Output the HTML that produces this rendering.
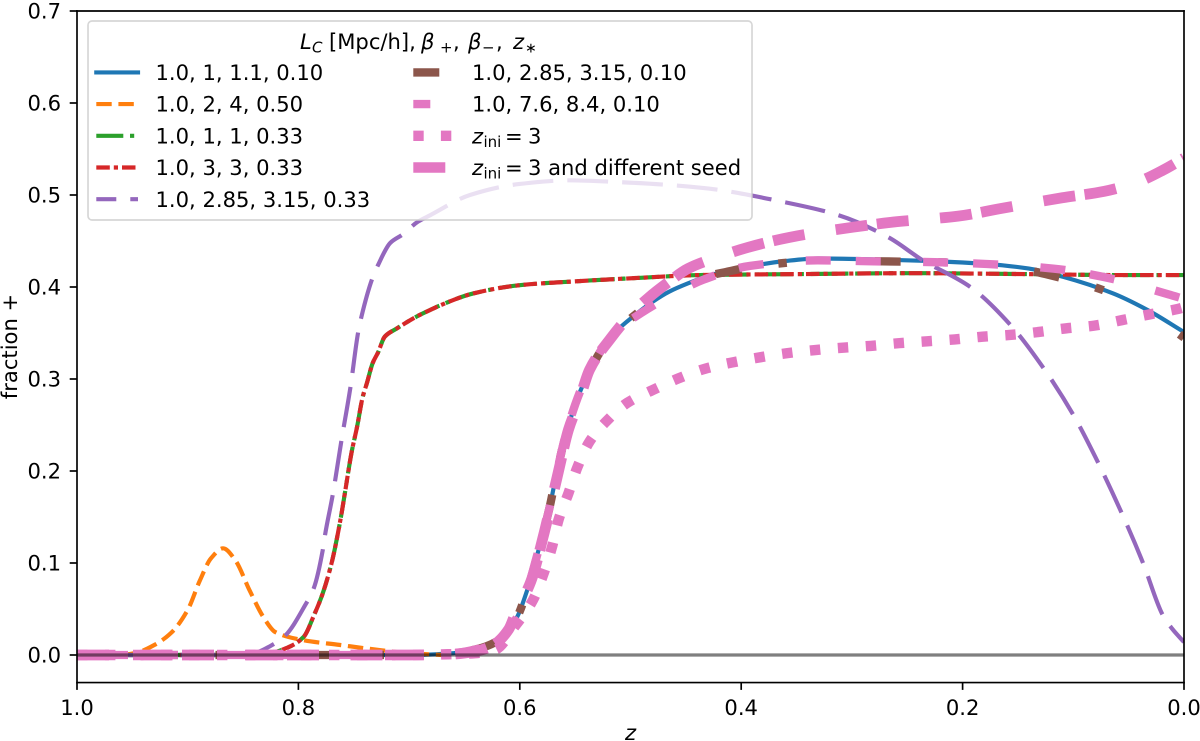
<!DOCTYPE html>
<html lang="en">
<head>
<meta charset="utf-8">
<title>Fraction + versus z</title>
<style>
html,body{margin:0;padding:0;background:#fff;}
svg{display:block;font-family:"DejaVu Sans","Liberation Sans",sans-serif;fill:#000;}
text{font-size:21.1px;}
</style>
</head>
<body>
<svg id="chart" xmlns="http://www.w3.org/2000/svg" width="1200" height="741" viewBox="0 0 1200 741">
<defs><clipPath id="plot-clip"><rect x="77" y="11" width="1107" height="671.6"></rect></clipPath></defs>
<rect x="0" y="0" width="1200" height="741" fill="#fff"></rect>
<g id="series-layer" clip-path="url(#plot-clip)"></g>
<g id="axes-layer"></g>
<g>
  <rect x="88" y="21" width="664" height="199" rx="4" ry="4" fill="#fff" fill-opacity="0.8" stroke="#ccc" stroke-opacity="0.8" stroke-width="1.67"></rect>
  <text y="49"><tspan x="300" font-style="italic">L</tspan><tspan x="312" font-style="italic" font-size="15" dy="3.5">C</tspan><tspan x="329" dy="-3.5">[Mpc/h],</tspan><tspan x="421" font-style="italic">β</tspan><tspan x="440" font-size="15" dy="3.5">+</tspan><tspan x="453" dy="-3.5">,</tspan><tspan x="468" font-style="italic">β</tspan><tspan x="482" font-size="15" dy="3.5">−</tspan><tspan x="496" dy="-3.5">,</tspan><tspan x="513" font-style="italic">z</tspan><tspan x="525" font-size="14" dy="3.5">∗</tspan></text>

  <g>
    <line x1="96.3" x2="138" y1="72.4" y2="72.4" stroke="#1f77b4" stroke-width="4.17" stroke-linecap="square"></line>
    <text x="155.5" y="80">1.0, 1, 1.1, 0.10</text>
  </g>
  <g>
    <line x1="96.3" x2="138" y1="104.1" y2="104.1" stroke="#ff7f0e" stroke-width="4.17" stroke-dasharray="15.4 6.7"></line>
    <text x="155.5" y="111.7">1.0, 2, 4, 0.50</text>
  </g>
  <g>
    <line x1="96.3" x2="138" y1="135.8" y2="135.8" stroke="#2ca02c" stroke-width="4.17" stroke-dasharray="27 6.7 4.2 6.7"></line>
    <text x="155.5" y="143.4">1.0, 1, 1, 0.33</text>
  </g>
  <g>
    <line x1="96.3" x2="138" y1="167.5" y2="167.5" stroke="#d62728" stroke-width="4.17" stroke-dasharray="13.5 4 4.2 4"></line>
    <text x="155.5" y="175.1">1.0, 3, 3, 0.33</text>
  </g>
  <g>
    <line x1="96.3" x2="138" y1="199.2" y2="199.2" stroke="#9467bd" stroke-width="4.17" stroke-dasharray="20 14 8 100"></line>
    <text x="155.5" y="206.8">1.0, 2.85, 3.15, 0.33</text>
  </g>
  <g>
    <line x1="413.3" x2="455" y1="72.4" y2="72.4" stroke="#8c564b" stroke-width="8.33" stroke-dasharray="26 100"></line>
    <text x="472" y="80">1.0, 2.85, 3.15, 0.10</text>
  </g>
  <g>
    <line x1="413.3" x2="455" y1="104.1" y2="104.1" stroke="#e377c2" stroke-width="8.33" stroke-dasharray="17 100"></line>
    <text x="472" y="111.7">1.0, 7.6, 8.4, 0.10</text>
  </g>
  <g>
    <line x1="413.3" x2="455" y1="135.8" y2="135.8" stroke="#e377c2" stroke-width="10.4" stroke-dasharray="10.4 17.2"></line>
    <text y="143.4"><tspan x="472" font-style="italic">z</tspan><tspan x="483.5" font-size="15" dy="3.5">ini</tspan><tspan x="505" dy="-3.5">=</tspan><tspan x="528">3</tspan></text>
  </g>
  <g>
    <line x1="413.3" x2="455" y1="167.5" y2="167.5" stroke="#e377c2" stroke-width="10.4" stroke-dasharray="32 100"></line>
    <text y="175.1"><tspan x="472" font-style="italic">z</tspan><tspan x="483.5" font-size="15" dy="3.5">ini</tspan><tspan x="505" dy="-3.5">=</tspan><tspan x="528">3 and different seed</tspan></text>
  </g>
</g>
</svg>
<script>
var xTicks = [1.0, 0.8, 0.6, 0.4, 0.2, 0.0];
var xTickLabels = ["1.0", "0.8", "0.6", "0.4", "0.2", "0.0"];
var yTicks = [0.0, 0.1, 0.2, 0.3, 0.4, 0.5, 0.6, 0.7];
var yTickLabels = ["0.0", "0.1", "0.2", "0.3", "0.4", "0.5", "0.6", "0.7"];

var zBlue = [1.0,.70,.66,.64,.622,.603,.594,.584,.573,.568,.559,.546,.538,.525,.512,.4986,.48,.465,.448,.43,.415,.39,.362,.33,.28,.225,.178,.14,.109,.064,.033,0];
var fBlue = [0,0,.002,.006,.014,.04,.068,.11,.161,.19,.237,.285,.306,.334,.353,.367,.384,.395,.404,.412,.417,.423,.428,.431,.43,.428,.425,.42,.411,.393,.375,.351];

var zOrange = [1.0,.96,.945,.93,.915,.90,.889,.879,.868,.857,.844,.831,.821,.795,.763,.731,.70,.67];
var fOrange = [0,0,.003,.011,.024,.049,.081,.105,.116,.103,.07,.04,.025,.016,.011,.006,.002,0];

var zGreen = [1.0,.86,.83,.81,.795,.786,.778,.77,.767,.761,.758,.752,.747,.742,.738,.733,.728,.722,.711,.693,.681,.672,.642,.6,.552,.491,.437,.35,.245,.139,.06,0];
var fGreen = [0,0,.001,.008,.02,.043,.067,.1,.116,.154,.176,.22,.248,.28,.296,.317,.329,.346,.355,.368,.375,.38,.393,.402,.406,.41,.413,.414,.415,.414,.413,.413];

var zRed = [1.0,.86,.83,.81,.795,.786,.778,.77,.767,.761,.758,.752,.747,.742,.738,.733,.728,.722,.711,.693,.681,.672,.642,.6,.552,.491,.437,.35,.245,.139,.06,0];
var fRed = [0,0,.001,.008,.02,.043,.067,.1,.116,.154,.176,.22,.248,.28,.296,.317,.329,.346,.355,.368,.375,.38,.393,.402,.406,.41,.413,.414,.415,.414,.413,.413];

var zPurple = [1.0,.86,.84,.825,.812,.794,.786,.778,.776,.769,.761,.753,.746,.743,.733,.728,.717,.706,.692,.681,.645,.6,.555,.51,.437,.36,.312,.267,.236,.193,.157,.127,.1,.08,.051,.037,.019,.011,0];
var fPurple = [0,0,.002,.01,.021,.054,.073,.114,.13,.174,.234,.291,.351,.368,.41,.424,.448,.457,.471,.478,.5,.512,.516,.514,.508,.492,.478,.454,.429,.40,.359,.312,.261,.215,.14,.10,.043,.029,.014];

var zBrown = [1.0,.70,.66,.64,.622,.603,.594,.584,.573,.568,.559,.546,.538,.525,.512,.4986,.48,.465,.448,.43,.415,.39,.362,.33,.28,.225,.178,.14,.125,.074,.033,0];
var fBrown = [0,0,.002,.006,.014,.04,.068,.11,.161,.19,.237,.285,.306,.334,.353,.367,.384,.395,.404,.412,.416,.422,.426,.429,.428,.427,.425,.418,.414,.397,.373,.345];

var zPink = [1.0,.70,.66,.64,.622,.603,.594,.584,.573,.568,.559,.546,.538,.525,.512,.49,.46,.434,.392,.331,.286,.225,.178,.118,.073,.014,0];
var fPink = [0,0,.002,.006,.014,.04,.068,.11,.161,.19,.237,.285,.306,.334,.353,.372,.393,.408,.423,.429,.428,.427,.425,.42,.411,.392,.387];

var zDotted = [1.0,.70,.66,.64,.622,.604,.588,.579,.571,.565,.556,.548,.537,.521,.503,.48,.456,.433,.408,.359,.333,.308,.283,.257,.232,.207,.182,.156,.132,.107,.081,.056,.032,.006,0];
var fDotted = [0,0,.001,.002,.006,.032,.06,.087,.117,.147,.176,.204,.232,.255,.274,.288,.301,.311,.318,.328,.3315,.334,.336,.339,.341,.343,.346,.348,.351,.355,.358,.364,.37,.376,.378];

var zSeed = [1.0,.70,.66,.64,.625,.61,.604,.59,.579,.565,.556,.547,.537,.518,.50,.484,.466,.448,.42,.394,.356,.299,.259,.204,.167,.11,.072,.04,.019,0];
var fSeed = [0,0,.001,.004,.01,.028,.045,.08,.128,.2,.245,.274,.31,.344,.37,.388,.405,.42,.433,.443,.454,.465,.471,.477,.485,.497,.504,.515,.527,.54];

var SVG_NS = "http://www.w3.org/2000/svg";

function xScale(z) { return 1184 - z * 1107; }
function yScale(f) { return 655 - f * 920; }

function monotonePath(zs, fs) {
  var px = zs.map(xScale);
  var py = fs.map(yScale);
  var n = px.length;
  var d = [];
  var i;
  for (i = 0; i < n - 1; i++) {
    d.push((py[i + 1] - py[i]) / (px[i + 1] - px[i]));
  }
  var m = [d[0]];
  for (i = 1; i < n - 1; i++) {
    if (d[i - 1] * d[i] <= 0) {
      m.push(0);
    } else {
      var h0 = px[i] - px[i - 1];
      var h1 = px[i + 1] - px[i];
      var w1 = 2 * h1 + h0;
      var w2 = h1 + 2 * h0;
      m.push((w1 + w2) / (w1 / d[i - 1] + w2 / d[i]));
    }
  }
  m.push(d[n - 2]);
  var out = "M" + px[0].toFixed(2) + "," + py[0].toFixed(2);
  for (i = 0; i < n - 1; i++) {
    var h = (px[i + 1] - px[i]) / 3;
    out += "C" + (px[i] + h).toFixed(2) + "," + (py[i] + m[i] * h).toFixed(2) + " " +
      (px[i + 1] - h).toFixed(2) + "," + (py[i + 1] - m[i + 1] * h).toFixed(2) + " " +
      px[i + 1].toFixed(2) + "," + py[i + 1].toFixed(2);
  }
  return out;
}

var seriesLayer = document.getElementById("series-layer");
var axesLayer = document.getElementById("axes-layer");

function drawSeries(name, zs, fs, color, width, dash, offset) {
  var el = document.createElementNS(SVG_NS, "path");
  
  
  el.setAttribute("d", monotonePath(zs, fs));
  el.setAttribute("fill", "none");
  el.setAttribute("stroke", color);
  el.setAttribute("stroke-width", width);
  if (dash) {
    el.setAttribute("stroke-dasharray", dash);
    el.setAttribute("stroke-dashoffset", offset);
  }
  seriesLayer.appendChild(el);
}

drawSeries("series-blue", zBlue, fBlue, "#1f77b4", 4.17, "", 0);
drawSeries("series-orange", zOrange, fOrange, "#ff7f0e", 4.17, "15.4 6.7", 0);
drawSeries("series-green", zGreen, fGreen, "#2ca02c", 4.17, "27 6.7 4.2 6.7", 0);
drawSeries("series-red", zRed, fRed, "#d62728", 4.17, "13.5 4 4.2 4", 0);
drawSeries("series-purple", zPurple, fPurple, "#9467bd", 4.17, "40.8 14.05", 6.1);
drawSeries("series-brown", zBrown, fBrown, "#8c564b", 8.33, "26 37.5 8.5 88", -75);
drawSeries("series-pink", zPink, fPink, "#e377c2", 8.33, "25 25 25 42.4", -26);
drawSeries("series-zini", zDotted, fDotted, "#e377c2", 10.4, "10.4 17.6", 0);
drawSeries("series-zini-seed", zSeed, fSeed, "#e377c2", 10.8, "32 31.5 32 9.5", 0);

var zeroLine = document.createElementNS(SVG_NS, "line");


zeroLine.setAttribute("x1", xScale(1));
zeroLine.setAttribute("x2", xScale(0));
zeroLine.setAttribute("y1", yScale(0));
zeroLine.setAttribute("y2", yScale(0));
zeroLine.setAttribute("stroke", "#000");
zeroLine.setAttribute("stroke-opacity", "0.5");
zeroLine.setAttribute("stroke-width", "3.13");
seriesLayer.appendChild(zeroLine);

var spineSpecs = [
  ["spine-left", 77, 11, 77, 682.6],
  ["spine-right", 1184, 11, 1184, 682.6],
  ["spine-top", 77, 11, 1184, 11],
  ["spine-bottom", 77, 682.6, 1184, 682.6]
];
spineSpecs.forEach(function (s) {
  var el = document.createElementNS(SVG_NS, "line");
  
  
  el.setAttribute("x1", s[1]);
  el.setAttribute("y1", s[2]);
  el.setAttribute("x2", s[3]);
  el.setAttribute("y2", s[4]);
  el.setAttribute("stroke", "#000");
  el.setAttribute("stroke-width", "1.67");
  el.setAttribute("stroke-linecap", "square");
  axesLayer.appendChild(el);
});

xTicks.forEach(function (v, i) {
  var t = document.createElementNS(SVG_NS, "line");
  
  
  t.setAttribute("x1", xScale(v));
  t.setAttribute("x2", xScale(v));
  t.setAttribute("y1", 682.6);
  t.setAttribute("y2", 689.9);
  t.setAttribute("stroke", "#000");
  t.setAttribute("stroke-width", "1.67");
  axesLayer.appendChild(t);
  var l = document.createElementNS(SVG_NS, "text");
  
  
  l.setAttribute("x", xScale(v));
  l.setAttribute("y", 715);
  l.setAttribute("text-anchor", "middle");
  l.textContent = xTickLabels[i];
  axesLayer.appendChild(l);
});

yTicks.forEach(function (v, i) {
  var t = document.createElementNS(SVG_NS, "line");
  
  
  t.setAttribute("x1", 77);
  t.setAttribute("x2", 69.7);
  t.setAttribute("y1", yScale(v));
  t.setAttribute("y2", yScale(v));
  t.setAttribute("stroke", "#000");
  t.setAttribute("stroke-width", "1.67");
  axesLayer.appendChild(t);
  var l = document.createElementNS(SVG_NS, "text");
  
  
  l.setAttribute("x", 61);
  l.setAttribute("y", yScale(v) + 7.6);
  l.setAttribute("text-anchor", "end");
  l.textContent = yTickLabels[i];
  axesLayer.appendChild(l);
});

var xTitle = document.createElementNS(SVG_NS, "text");


xTitle.setAttribute("x", 630.5);
xTitle.setAttribute("y", 740);
xTitle.setAttribute("text-anchor", "middle");
xTitle.setAttribute("font-style", "italic");
xTitle.textContent = "z";
axesLayer.appendChild(xTitle);

var yTitle = document.createElementNS(SVG_NS, "text");


yTitle.setAttribute("transform", "translate(17,346.5) rotate(-90)");
yTitle.setAttribute("text-anchor", "middle");
yTitle.textContent = "fraction +";
axesLayer.appendChild(yTitle);
</script>
</body>
</html>
